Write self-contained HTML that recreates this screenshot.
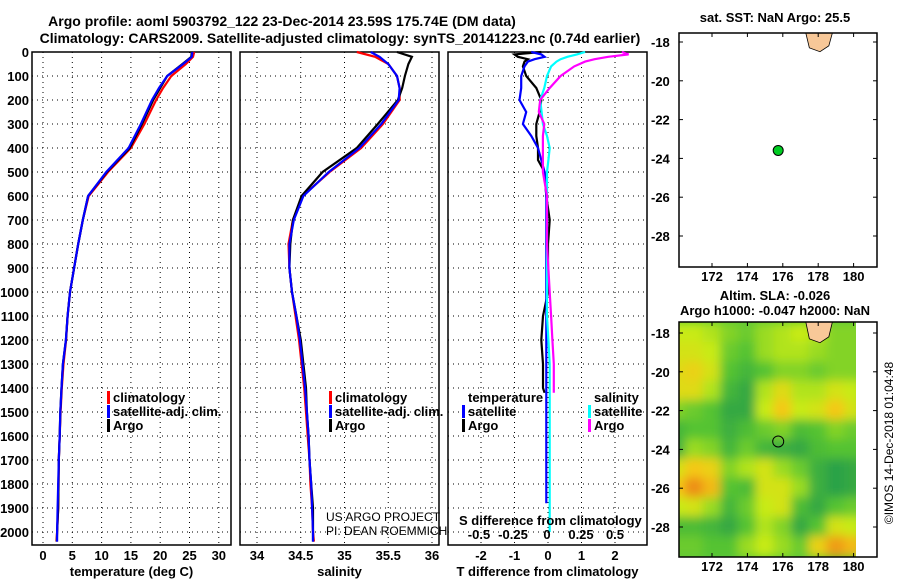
<!DOCTYPE html>
<html><head><meta charset="utf-8"><style>
html,body{margin:0;padding:0;background:#fff;}
svg{display:block;font-family:"Liberation Sans",sans-serif;}
.b{font-weight:bold;font-size:13px;}
.n{font-weight:normal;font-size:12px;}
.t{font-weight:bold;font-size:14px;}
</style></head><body>
<svg id="c" width="900" height="580" viewBox="0 0 900 580">
<text class="t" x="282" y="26" text-anchor="middle">Argo profile: aoml 5903792_122 23-Dec-2014 23.59S 175.74E (DM data)</text>
<text class="t" x="340" y="43" text-anchor="middle">Climatology: CARS2009. Satellite-adjusted climatology: synTS_20141223.nc (0.74d earlier)</text>
<g id="g"></g>
</svg>
<script>
// depth levels (m)
const depths = [0,20,50,100,150,200,300,400,500,600,700,800,900,1000,1100,1200,1300,1400,1500,1600,1700,1800,1900,2000,2040];
const tempArgo = [25.4,25.3,23.8,21.2,20.0,18.8,16.9,14.8,10.9,7.7,6.8,6.0,5.3,4.6,4.2,3.9,3.4,3.15,2.95,2.85,2.7,2.65,2.6,2.4,2.35];
const tempClim = [25.8,25.6,24.4,21.9,20.5,19.3,17.3,15.0,11.1,7.8,6.8,6.0,5.3,4.6,4.2,3.95,3.5,3.2,3.0,2.85,2.7,2.65,2.6,2.4,2.3];
const tempSat  = [25.5,25.4,23.9,21.2,19.8,18.6,16.7,14.6,10.8,7.7,6.8,6.0,5.3,4.6,4.2,3.9,3.4,3.15,2.95,2.85,2.7,2.6,2.5,2.4,2.4];
const salArgo = [35.6,35.77,35.73,35.69,35.66,35.61,35.38,35.14,34.75,34.51,34.41,34.38,34.37,34.40,34.45,34.50,34.53,34.56,34.57,34.59,34.60,34.62,34.64,34.64,34.64];
const salClim = [35.14,35.35,35.5,35.6,35.63,35.63,35.44,35.19,34.83,34.52,34.41,34.36,34.37,34.40,34.44,34.48,34.51,34.54,34.56,34.58,34.60,34.61,34.63,34.64,34.65];
const salSat  = [35.3,35.4,35.5,35.6,35.63,35.62,35.42,35.17,34.82,34.53,34.42,34.37,34.37,34.40,34.45,34.49,34.52,34.55,34.57,34.59,34.60,34.62,34.63,34.64,34.64];
const diffDepths = [0,10,20,30,40,60,100,150,200,250,300,350,400,450,500,600,700,800,1000,1100,1200,1300,1400,1420,1600,1880,2000];
const tDiffArgo = [-0.2,-1.0,-0.9,-0.6,-0.7,-0.75,-0.65,-0.35,-0.2,-0.25,-0.35,-0.35,-0.3,-0.3,-0.1,-0.05,0.05,0,0,-0.15,-0.2,-0.15,-0.15,-0.1,null,null,null];
const tDiffSat  = [-0.5,-0.2,-0.1,-0.4,-0.6,-0.7,-0.8,-0.8,-0.85,-0.65,-0.75,-0.5,-0.3,-0.2,-0.1,-0.05,-0.05,-0.05,-0.05,-0.05,-0.05,-0.05,-0.05,-0.05,-0.05,-0.05,null];
const sDiffSat  = [0.28,0.22,0.15,0.1,0.07,0.03,0.0,-0.02,-0.05,-0.04,-0.03,0.0,0.02,0.01,0.0,0.0,0.0,0.0,0.0,0.0,0.01,0.02,0.02,0.02,0.02,0.02,0.02];
const sDiffArgo = [0.55,0.6,0.45,0.35,0.28,0.2,0.1,0.02,-0.05,-0.06,-0.02,-0.03,-0.03,-0.03,-0.03,0.0,0.0,0.0,0.02,0.03,0.04,0.05,0.05,0.05,null,null,null];
const depthTicks = [0,100,200,300,400,500,600,700,800,900,1000,1100,1200,1300,1400,1500,1600,1700,1800,1900,2000];
const tempTicks = [0,5,10,15,20,25,30];
const salTicks = [34,34.5,35,35.5,36];
const tdTicks = [-2,-1,0,1,2];
const sdTicks = [-0.5,-0.25,0,0.25,0.5];
const lonTicks = [172,174,176,178,180];
const latTicks = [-18,-20,-22,-24,-26,-28];
const slaLats = [-18,-19,-20,-21,-22,-23,-24,-25,-26,-27,-28,-29];
const slaLons = [170,171,172,173,174,175,176,177,178,179,180];
const slaGrid = [
[0.55,0.55,0.5,0.4,0.35,0.45,0.5,0.55,0.5,0.4,0.4],
[0.6,0.6,0.55,0.35,0.3,0.45,0.5,0.5,0.45,0.4,0.4],
[0.65,0.7,0.6,0.3,0.2,0.3,0.4,0.4,0.35,0.4,0.4],
[0.65,0.65,0.5,0.2,0.1,0.5,0.65,0.5,0.5,0.6,0.55],
[0.4,0.35,0.3,0.1,0.1,0.55,0.75,0.55,0.6,0.75,0.6],
[0.2,0.3,0.3,0.15,0.25,0.35,0.4,0.25,0.3,0.4,0.35],
[0.15,0.45,0.4,0.2,0.35,0.2,0.15,0.1,0.25,0.3,0.3],
[0.6,0.75,0.7,0.4,0.5,0.6,0.45,0.35,0.15,0.05,0.1],
[0.75,0.95,0.8,0.3,0.25,0.6,0.6,0.45,0.15,0.05,0.1],
[0.55,0.6,0.45,0.2,0.35,0.55,0.6,0.25,0.1,0.3,0.35],
[0.25,0.25,0.2,0.1,0.3,0.5,0.4,0.1,0.3,0.6,0.55],
[0.35,0.35,0.3,0.3,0.45,0.55,0.45,0.35,0.7,0.9,0.8]];
const floatLon = 175.74, floatLat = -23.59;

const NS="http://www.w3.org/2000/svg";
const G=document.getElementById('g');
function mk(tag,attrs,parent){const e=document.createElementNS(NS,tag);for(const k in attrs)e.setAttribute(k,attrs[k]);(parent||G).appendChild(e);return e;}
function txt(x,y,s,cls,anchor,parent){const e=mk('text',{x:x,y:y,'class':cls||'b','text-anchor':anchor||'start'},parent);e.textContent=s;return e;}

const yD = d => 52 + d*0.24;
const PT = 545;
const panels = [
 {x0:32,x1:231,name:'temperature',f:v=>43+v*5.86,ticks:tempTicks,title:'temperature (deg C)'},
 {x0:240,x1:439,name:'salinity',f:v=>257+(v-34)*87.5,ticks:salTicks,title:'salinity'},
 {x0:448,x1:647,name:'difference',f:v=>548+v*33.5,ticks:tdTicks,title:'T difference from climatology'}
];
const sX = v => 547+v*136;

panels.forEach((p,i)=>{
  const r=mk('rect',{x:p.x0,y:52,width:p.x1-p.x0,height:PT-52,fill:'none',stroke:'#000','stroke-width':1.5});
  
  
  depthTicks.forEach(d=>{
    const l=mk('line',{x1:p.x0,x2:p.x1,y1:yD(d),y2:yD(d),stroke:'#000','stroke-dasharray':'1,4'});
    
    
  });
  p.ticks.forEach(v=>{
    const l=mk('line',{x1:p.f(v),x2:p.f(v),y1:52,y2:PT,stroke:'#000','stroke-dasharray':'1,4'});
    
    
    const t=txt(p.f(v),560,String(v),'b','middle');
    
    
  });
  const tt=txt((p.x0+p.x1)/2,576,p.title,'b','middle');
  
  
});
depthTicks.forEach(d=>{
  const t=txt(29,yD(d)+5,String(d),'b','end');
  
  
});

function depthsFor(xs){return xs.length===depths.length?depths:diffDepths;}
function line(xs,fx,col,name,w){
  let pts=[];
  depthsFor(xs).forEach((d,i)=>{ if(xs[i]!==null) pts.push(fx(xs[i]).toFixed(1)+','+yD(d).toFixed(1)); });
  const pl=mk('polyline',{points:pts.join(' '),fill:'none',stroke:col,'stroke-width':w||2.2});
  
  
}
const pT=panels[0].f, pS=panels[1].f, pD=panels[2].f;
line(tempClim,pT,'#ff0000','temperature-climatology-line');
line(tempArgo,pT,'#000000','temperature-argo-line');
line(tempSat,pT,'#0000ff','temperature-satellite-line');
line(salClim,pS,'#ff0000','salinity-climatology-line');
line(salArgo,pS,'#000000','salinity-argo-line');
line(salSat,pS,'#0000ff','salinity-satellite-line');
line(tDiffArgo,pD,'#000000','t-diff-argo-line');
line(tDiffSat,pD,'#0000ff','t-diff-satellite-line');
line(sDiffSat,sX,'#00ffff','s-diff-satellite-line');
line(sDiffArgo,sX,'#ff00ff','s-diff-argo-line');

function legend(x,y,items,prefix){
  items.forEach((it,i)=>{
    const yy=y+i*14;
    if(it[1]){const m=mk('rect',{x:x-6,y:yy-11,width:3,height:13,fill:it[1]});
      
      }
    const t=txt(x,yy,it[0]);
    
    
  });
}
legend(113,402,[['climatology','#ff0000'],['satellite-adj. clim.','#0000ff'],['Argo','#000']],'temperature');
legend(335,402,[['climatology','#ff0000'],['satellite-adj. clim.','#0000ff'],['Argo','#000']],'salinity');
legend(468,402,[['temperature',null],['satellite','#0000ff'],['Argo','#000']],'t-diff');
legend(594,402,[['salinity',null],['satellite','#00ffff'],['Argo','#ff00ff']],'s-diff');
let e=txt(459,525,'S difference from climatology');


sdTicks.forEach(v=>{const t=txt(sX(v),539,String(v),'b','middle');
  
  });
e=txt(326,521,'US ARGO PROJECT','n','start');


e=txt(326,535,'PI: DEAN ROEMMICH','n','start');



// maps
const lonX = lo => 712+(lo-172)*17.7;
function mapFrame(y0,y1,latY,prefix,heat){
  const defs=mk('defs',{});
  if(heat){
    const cp=mk('clipPath',{id:'clip'+prefix},defs);
    mk('rect',{x:679,y:y0,width:856-679,height:y1-y0},cp);
    const f=mk('filter',{id:'blur'+prefix,x:'-10%',y:'-10%',width:'120%',height:'120%'},defs);
    mk('feGaussianBlur',{stdDeviation:5},f);
    const hg=mk('g',{'clip-path':'url(#clip'+prefix+')'});
    mk('rect',{x:679,y:y0,width:177,height:y1-y0,fill:'#5cc83a'},hg);
    const bg=mk('g',{filter:'url(#blur'+prefix+')'},hg);
    const stops=[[0,[35,155,75]],[0.3,[85,195,50]],[0.55,[200,235,25]],[0.75,[245,200,20]],[1,[235,125,20]]];
    function col(v){for(let i=1;i<stops.length;i++){if(v<=stops[i][0]){const a=stops[i-1],b=stops[i];const t=(v-a[0])/(b[0]-a[0]);return 'rgb('+a[1].map((c,k)=>Math.round(c+(b[1][k]-c)*t)).join(',')+')';}}return 'rgb(235,125,20)';}
    slaLats.forEach((la,i)=>slaLons.forEach((lo,j)=>{
      const c=mk('rect',{x:lonX(lo)-9.5,y:latY(la)-10.5,width:19,height:21,fill:col(slaGrid[i][j])},bg);
      
      
    }));
  }
  const land=mk('path',{d:'M'+(lonX(177.3))+','+y0+' L'+lonX(178.8)+','+y0+' L'+lonX(178.6)+','+(latY(-18.2))+' L'+lonX(178.1)+','+(latY(-18.5))+' L'+lonX(177.5)+','+(latY(-18.3))+' Z',fill:'#f8c898',stroke:'#000','stroke-width':0.8});
  
  
  const r=mk('rect',{x:679,y:y0,width:198,height:y1-y0,fill:'none',stroke:'#000','stroke-width':1.5});
  
  
  lonTicks.forEach(lo=>{
    mk('line',{x1:lonX(lo),x2:lonX(lo),y1:y1,y2:y1-4,stroke:'#000'});
    mk('line',{x1:lonX(lo),x2:lonX(lo),y1:y0,y2:y0+4,stroke:'#000'});
    const t=txt(lonX(lo),y1+14,String(lo),'b','middle');
    
    
  });
  latTicks.forEach(la=>{
    mk('line',{x1:679,x2:683,y1:latY(la),y2:latY(la),stroke:'#000'});
    mk('line',{x1:877,x2:873,y1:latY(la),y2:latY(la),stroke:'#000'});
    const t=txt(651,latY(la)+5,String(la));
    
    
  });
}
const latTop = la => 42+(-18-la)*19.4;
const latBot = la => 333+(-18-la)*19.4;
mapFrame(33,267,latTop,'sst',false);
mapFrame(322,557,latBot,'sla',true);
e=mk('circle',{cx:lonX(floatLon),cy:latTop(floatLat),r:5,fill:'#00cc22',stroke:'#000','stroke-width':1});


e=mk('circle',{cx:lonX(floatLon),cy:latBot(floatLat),r:5.5,fill:'none',stroke:'#000','stroke-width':1});


e=txt(775,22,'sat. SST: NaN Argo: 25.5','b','middle');


e=txt(775,300,'Altim. SLA: -0.026','b','middle');


e=txt(775,315,'Argo h1000: -0.047 h2000: NaN','b','middle');


e=txt(0,0,'©IMOS 14-Dec-2018 01:04:48','n','middle');
e.setAttribute('transform','translate(893,443) rotate(-90)');


</script>
</body></html>
